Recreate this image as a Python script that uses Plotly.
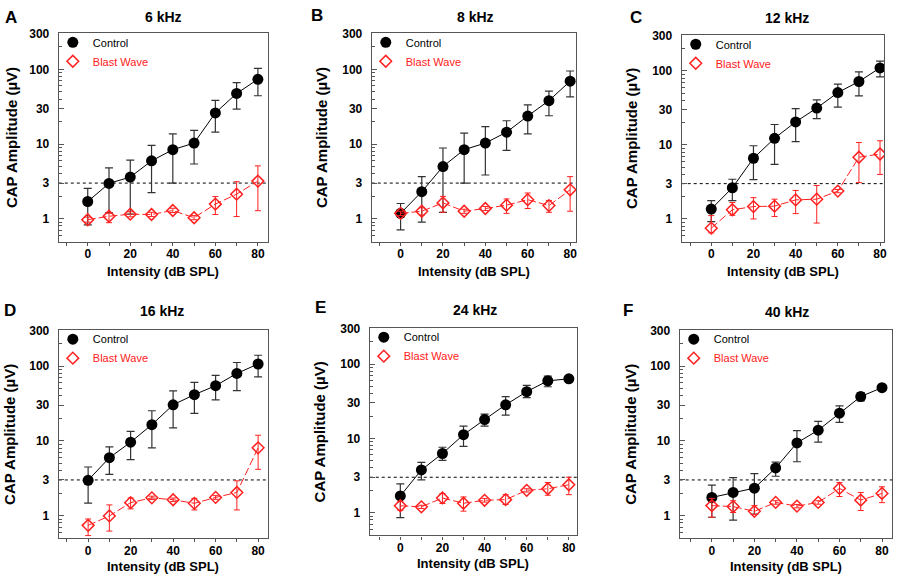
import plotly.graph_objects as go

W, H = 899, 574
intensity = [0, 10, 20, 30, 40, 50, 60, 70, 80]
y_tickvals = [1, 3, 10, 30, 100, 300]
x_tickvals = [0, 20, 40, 60, 80]

panel_letters = ["A", "B", "C", "D", "E", "F"]
panel_titles = ["6 kHz", "8 kHz", "12 kHz", "16 kHz", "24 kHz", "40 kHz"]
threshold = 3

# --- Control (mean, upper, lower) ---
A_ctrl = [1.70, 2.97, 3.61, 5.95, 8.4, 10.3, 26.1, 47.5, 73.6]
A_ctrl_hi = [2.55, 4.8, 6.07, 9.6, 13.7, 15.2, 38.4, 66.5, 103]
A_ctrl_lo = [0.83, 1.2, 1.15, 2.24, 3.0, 5.4, 14.4, 29.4, 44.3]
B_ctrl = [1.18, 2.30, 5.0, 8.41, 10.3, 14.4, 23.7, 38.1, 69.4]
B_ctrl_hi = [1.6, 3.66, 8.85, 14.0, 17.1, 20.5, 33.4, 51.2, 95]
B_ctrl_lo = [0.71, 0.90, 1.22, 2.99, 3.85, 8.2, 13.7, 23.9, 42.7]
C_ctrl = [1.36, 2.64, 6.61, 12.3, 20.5, 31.5, 51, 72, 110]
C_ctrl_hi = [1.77, 3.44, 9.75, 18.9, 30.9, 40.7, 66.5, 97, 136]
C_ctrl_lo = [0.92, 1.77, 3.40, 5.45, 11.1, 22.7, 32.5, 46, 83]
D_ctrl = [2.97, 5.95, 9.6, 16.5, 30.4, 41.6, 54.8, 80, 107]
D_ctrl_hi = [4.47, 8.3, 13.4, 25.3, 46.6, 60.7, 75.2, 112, 140]
D_ctrl_lo = [1.47, 3.57, 5.6, 8.07, 14.9, 23.3, 35.4, 47, 72]
E_ctrl = [1.68, 3.76, 6.26, 11.2, 17.9, 28.3, 42.5, 59.5, 63.2]
E_ctrl_hi = [2.45, 4.75, 7.6, 14.6, 21.2, 36.4, 51.6, 68.6, 66.0]
E_ctrl_lo = [0.86, 2.77, 5.05, 7.83, 14.6, 20.6, 35.4, 49.5, 60.5]
F_ctrl = [1.75, 2.04, 2.33, 4.34, 9.4, 13.9, 23.5, 39.2, 51.6]
F_ctrl_hi = [2.55, 3.23, 3.65, 5.21, 13.7, 18.2, 29.5, 44.3, 54.0]
F_ctrl_lo = [0.95, 0.87, 1.05, 3.36, 5.26, 9.6, 17.7, 34.3, 49.0]

# --- Blast Wave (mean, upper, lower) ---
A_blast = [0.97, 1.08, 1.15, 1.14, 1.29, 1.03, 1.57, 2.13, 3.19]
A_blast_hi = [1.05, 1.19, 1.24, 1.22, 1.38, 1.10, 1.98, 3.13, 5.1]
A_blast_lo = [0.90, 0.885, 1.06, 1.07, 1.21, 0.97, 1.14, 1.07, 1.28]
B_blast = [1.18, 1.26, 1.63, 1.26, 1.37, 1.52, 1.80, 1.50, 2.44]
B_blast_hi = [1.26, 1.40, 1.99, 1.34, 1.46, 1.84, 2.21, 1.75, 3.66]
B_blast_lo = [1.10, 1.12, 1.22, 1.18, 1.29, 1.18, 1.37, 1.22, 1.26]
C_blast = [0.75, 1.33, 1.47, 1.49, 1.81, 1.85, 2.38, 6.82, 7.55]
C_blast_hi = [1.11, 1.67, 1.94, 1.85, 2.43, 2.83, 2.50, 10.8, 11.4]
C_blast_lo = [0.65, 1.12, 1.0, 1.08, 1.18, 0.88, 2.26, 3.1, 4.0]
D_blast = [0.74, 0.99, 1.49, 1.73, 1.63, 1.46, 1.75, 2.04, 8.07]
D_blast_hi = [0.90, 1.39, 1.72, 1.82, 1.72, 1.70, 1.85, 2.92, 11.9]
D_blast_lo = [0.54, 0.62, 1.23, 1.64, 1.54, 1.19, 1.65, 1.19, 4.16]
E_blast = [1.24, 1.20, 1.58, 1.34, 1.47, 1.50, 2.0, 2.10, 2.38]
E_blast_hi = [1.42, 1.26, 1.81, 1.63, 1.55, 1.75, 2.1, 2.55, 3.0]
E_blast_lo = [1.08, 1.14, 1.33, 1.05, 1.39, 1.29, 1.9, 1.72, 1.75]
F_blast = [1.36, 1.32, 1.14, 1.50, 1.34, 1.50, 2.31, 1.61, 1.98]
F_blast_hi = [1.70, 1.58, 1.36, 1.58, 1.41, 1.58, 2.77, 2.04, 2.43]
F_blast_lo = [0.95, 1.10, 1.03, 1.42, 1.27, 1.42, 1.80, 1.17, 1.49]

ctrl = [(A_ctrl, A_ctrl_hi, A_ctrl_lo), (B_ctrl, B_ctrl_hi, B_ctrl_lo), (C_ctrl, C_ctrl_hi, C_ctrl_lo),
        (D_ctrl, D_ctrl_hi, D_ctrl_lo), (E_ctrl, E_ctrl_hi, E_ctrl_lo), (F_ctrl, F_ctrl_hi, F_ctrl_lo)]
blast = [(A_blast, A_blast_hi, A_blast_lo), (B_blast, B_blast_hi, B_blast_lo), (C_blast, C_blast_hi, C_blast_lo),
         (D_blast, D_blast_hi, D_blast_lo), (E_blast, E_blast_hi, E_blast_lo), (F_blast, F_blast_hi, F_blast_lo)]

# --- layout geometry (pixels) ---
frames = [(59, 269, 27, 238), (373, 578, 27, 238), (684, 887, 29, 238),
          (59, 269, 327, 538), (371, 579, 325, 535), (682, 895, 327, 538)]
xranges = [(-13.6, 84.8), (-13.6, 82.8), (-14.0, 81.9), (-13.8, 84.7), (-14.5, 83.9), (-15.1, 84.7)]
yrange = [-0.305, 2.49]
letter_pos = [(11, 12), (318, 10), (638, 12), (10, 308), (322, 305), (630, 308)]
title_pos = [(164, 11), (477, 11), (790, 12), (163, 308), (477, 307), (790, 309)]
ytitle_x = [11, 322, 633, 10, 321, 633]
xtitle_y = [268, 268, 268, 566, 563, 566]

FONT = "Liberation Sans, Arial, sans-serif"
RED = "#ff2020"
GRAY = "#555555"

fig = go.Figure()
annotations = []
shapes = []

for i in range(6):
    l, r, t, b = frames[i]
    sfx = "" if i == 0 else str(i + 1)
    xa, ya = "x" + sfx, "y" + sfx
    lg = "legend" + sfx
    m, hi, lo = ctrl[i]
    fig.add_trace(go.Scatter(
        x=intensity, y=m, xaxis=xa, yaxis=ya, mode="lines+markers", name="Control",
        showlegend=False, line=dict(color="black", width=1),
        marker=dict(symbol="circle", size=11, color="black"),
        error_y=dict(type="data", symmetric=False,
                     array=[h - v for h, v in zip(hi, m)],
                     arrayminus=[v - lo_ for v, lo_ in zip(m, lo)],
                     color="#333333", thickness=1.2, width=4)))
    m, hi, lo = blast[i]
    fig.add_trace(go.Scatter(
        x=intensity, y=m, xaxis=xa, yaxis=ya, mode="lines+markers", name="Blast Wave",
        showlegend=False, line=dict(color=RED, width=1, dash="8px,3px"),
        marker=dict(symbol="diamond-open", size=9, color=RED, line=dict(width=1.5, color=RED)),
        error_y=dict(type="data", symmetric=False,
                     array=[h - v for h, v in zip(hi, m)],
                     arrayminus=[v - lo_ for v, lo_ in zip(m, lo)],
                     color=RED, thickness=1, width=3)))
    # legend-only entries (marker symbol only, like the reference key)
    fig.add_trace(go.Scatter(x=[None], y=[None], xaxis=xa, yaxis=ya, mode="markers",
                             name="Control", legend=lg,
                             marker=dict(symbol="circle", size=11, color="black")))
    fig.add_trace(go.Scatter(x=[None], y=[None], xaxis=xa, yaxis=ya, mode="markers",
                             name="<span style='color:%s'>Blast Wave</span>" % RED, legend=lg,
                             marker=dict(symbol="diamond-open", size=9, color=RED,
                                         line=dict(width=1.5, color=RED))))

    xdom = [l / W, r / W]
    ydom = [1 - b / H, 1 - t / H]
    axis_common = dict(showline=True, linecolor=GRAY, linewidth=1.2, mirror=True,
                       showgrid=False, zeroline=False,
                       tickfont=dict(family=FONT, size=12, color="black", weight="bold"))
    fig.update_layout(**{
        "xaxis" + sfx: dict(domain=xdom, range=list(xranges[i]), anchor=ya,
                            tickvals=x_tickvals, ticks="outside", ticklen=3, tickcolor=GRAY,
                            ticklabelstandoff=-2,
                            minor=dict(dtick=10, tick0=0, ticks="outside", ticklen=3, tickcolor=GRAY),
                            **axis_common),
        "yaxis" + sfx: dict(domain=ydom, type="log", range=yrange, anchor=xa,
                            tickvals=y_tickvals, ticktext=[str(v) for v in y_tickvals],
                            ticks="inside", ticklen=5, tickcolor=GRAY, ticklabelstandoff=6,
                            minor=dict(dtick="D1", ticks="inside", ticklen=3, tickcolor=GRAY),
                            **axis_common),
        lg: dict(x=(l - 6) / W, y=1 - (t - 5) / H, xanchor="left", yanchor="top",
                 bgcolor="rgba(0,0,0,0)", borderwidth=0, itemwidth=30,
                 font=dict(family=FONT, size=11, color="black"), tracegroupgap=0),
    })
    shapes.append(dict(type="line", xref=xa + " domain", yref=ya, x0=0, x1=1,
                       y0=threshold, y1=threshold, line=dict(color="black", width=1, dash="dot"),
                       layer="below"))
    annotations.append(dict(text="<b>%s</b>" % panel_letters[i], x=letter_pos[i][0] / W,
                            y=1 - letter_pos[i][1] / H, xref="paper", yref="paper",
                            showarrow=False, font=dict(family=FONT, size=17, color="black"),
                            xanchor="center", yanchor="middle"))
    annotations.append(dict(text="<b>%s</b>" % panel_titles[i], x=title_pos[i][0] / W,
                            y=1 - title_pos[i][1] / H, xref="paper", yref="paper",
                            showarrow=False, font=dict(family=FONT, size=14, color="black"),
                            xanchor="center", yanchor="middle"))
    annotations.append(dict(text="<b>CAP Amplitude (µV)</b>", x=ytitle_x[i] / W,
                            y=1 - ((t + b) / 2) / H, xref="paper", yref="paper", textangle=-90,
                            showarrow=False, font=dict(family=FONT, size=15, color="black"),
                            xanchor="center", yanchor="middle"))
    annotations.append(dict(text="<b>Intensity (dB SPL)</b>", x=((l + r) / 2) / W,
                            y=1 - xtitle_y[i] / H, xref="paper", yref="paper",
                            showarrow=False, font=dict(family=FONT, size=13, color="black"),
                            xanchor="center", yanchor="middle"))

fig.update_layout(width=W, height=H, margin=dict(l=0, r=0, t=0, b=0),
                  plot_bgcolor="white", paper_bgcolor="white", showlegend=True,
                  annotations=annotations, shapes=shapes)

fig.write_html("out.html", config={"displayModeBar": False},
               post_script="document.body.style.margin='0';")
